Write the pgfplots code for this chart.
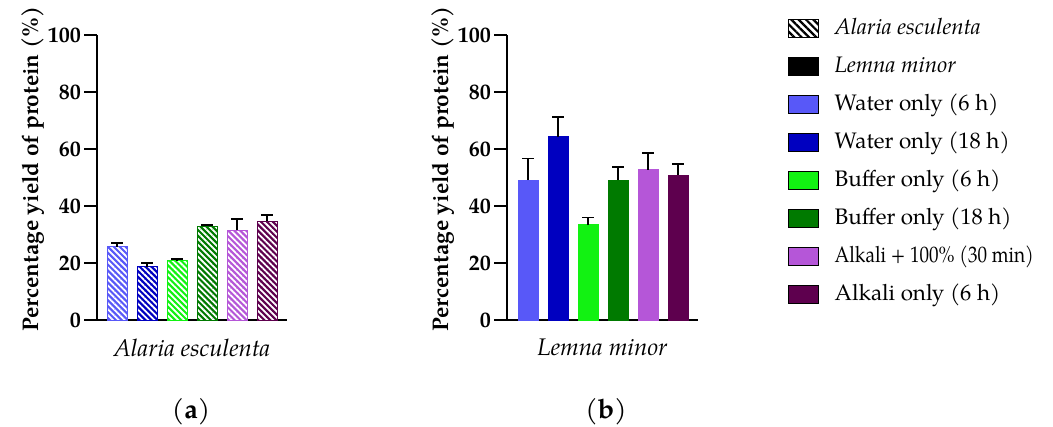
\documentclass[border=0pt]{standalone}
\usepackage{fontspec}
\setmainfont{texgyrepagella}[Extension=.otf, UprightFont=*-regular, BoldFont=*-bold, ItalicFont=*-italic, BoldItalicFont=*-bolditalic]
\usepackage{graphicx}
\usepackage{pgfplots}
\pgfplotsset{compat=1.18}
\usetikzlibrary{patterns.meta}

\definecolor{cWa}{HTML}{5858F8}
\definecolor{cWb}{HTML}{0000C0}
\definecolor{cBa}{HTML}{12F212}
\definecolor{cBb}{HTML}{007A00}
\definecolor{cAa}{HTML}{B556D8}
\definecolor{cAb}{HTML}{5E004E}

\pgfplotsset{
  panel/.style={
    scale only axis,
    height=142.5pt,
    ymin=0, ymax=100,
    ytick={0,20,40,60,80,100},
    xtick=\empty,
    axis x line*=bottom,
    axis y line*=left,
    axis line style={-, line width=1.4pt, black},
    tick align=outside,
    major tick length=6.5pt,
    tick style={line width=1.1pt, black},
    /pgf/number format/assume math mode=true,
    ticklabel style={font=\fontsize{11}{13}\selectfont\bfseries},
    yticklabel style={xshift=2pt},
    ylabel={\bfseries Percentage yield of protein (\%)},
    ylabel style={font=\fontsize{11.3}{13}\selectfont, at={(ticklabel cs:0.53)}},
    ylabel shift=-5pt,
    xlabel style={font=\fontsize{12}{14}\selectfont\itshape, at={(axis description cs:0.5,0)}, anchor=north, yshift=-6pt},
    ybar, bar width=10pt, bar shift=0pt,
    clip=false,
    error bars/y dir=plus, error bars/y explicit,
    error bars/error bar style={black, line width=0.8pt, solid},
    error bars/error mark options={rotate=90, black, mark size=3pt, line width=0.8pt},
  },
  hatch/.style={fill=#1, draw=#1, postaction={pattern={Lines[angle=-45, distance=2.1pt, line width=0.9pt]}, pattern color=white}},
  solid bar/.style={fill=#1, draw=#1},
}

\begin{document}
\begin{tikzpicture}
\useasboundingbox (0pt,0pt) rectangle (526.5pt,213.5pt);

% (a) Alaria esculenta
\begin{axis}[panel, at={(48.5pt,53.5pt)}, anchor=south west, width=95pt,
  xmin=-0.667, xmax=5.667, xlabel={Alaria esculenta}]
\addplot[hatch=cWa] coordinates {(0,25.7) +- (0,1.4)};
\addplot[hatch=cWb] coordinates {(1,18.7) +- (0,1.2)};
\addplot[hatch=cBa] coordinates {(2,20.8) +- (0,0.7)};
\addplot[hatch=cBb] coordinates {(3,33.0) +- (0,0.3)};
\addplot[hatch=cAa] coordinates {(4,31.6) +- (0,3.8)};
\addplot[hatch=cAb] coordinates {(5,34.6) +- (0,2.2)};
\end{axis}

% (b) Lemna minor
\begin{axis}[panel, at={(253.5pt,53.5pt)}, anchor=south west, width=95.5pt,
  xmin=-0.7, xmax=5.667, xlabel={Lemna minor},
  legend image code/.code={\fill[#1] (0pt,-4.5pt) rectangle (15pt,4.5pt);},
  legend cell align=left,
  legend style={at={(1.466,1.06)}, anchor=north west, draw=none, fill=none,
    inner sep=0pt, row sep=8.5pt, font=\fontsize{11.2}{13}\selectfont,
    nodes={inner sep=0pt, text height=8pt, text depth=2.5pt},
    /tikz/every odd column/.append style={column sep=7.5pt}},
]
\addlegendimage{pattern={Lines[angle=-45, distance=2.6pt, line width=1.1pt]}, pattern color=black}
\addlegendentry{\itshape Alaria esculenta}
\addlegendimage{fill=black}
\addlegendentry{\itshape Lemna minor}
\addlegendimage{fill=cWa}
\addlegendentry{Water only (6 h)}
\addlegendimage{fill=cWb}
\addlegendentry{Water only (18 h)}
\addlegendimage{fill=cBa}
\addlegendentry{Buffer only (6 h)}
\addlegendimage{fill=cBb}
\addlegendentry{Buffer only (18 h)}
\addlegendimage{fill=cAa}
\addlegendentry{\scalebox{0.85}[1]{Alkali + 100\% (30 min)}}
\addlegendimage{fill=cAb}
\addlegendentry{Alkali only (6 h)}
\addplot[solid bar=cWa, forget plot] coordinates {(0,49.1) +- (0,7.6)};
\addplot[solid bar=cWb, forget plot] coordinates {(1,64.3) +- (0,7.0)};
\addplot[solid bar=cBa, forget plot] coordinates {(2,33.5) +- (0,2.4)};
\addplot[solid bar=cBb, forget plot] coordinates {(3,49.1) +- (0,4.5)};
\addplot[solid bar=cAa, forget plot] coordinates {(4,52.7) +- (0,5.9)};
\addplot[solid bar=cAb, forget plot] coordinates {(5,50.9) +- (0,3.9)};
\end{axis}

\node[font=\fontsize{13.5}{15}\selectfont] at (95.5pt,7.5pt) {(\textbf{a})};
\node[font=\fontsize{13.5}{15}\selectfont] at (303pt,7.5pt) {(\textbf{b})};
\end{tikzpicture}
\end{document}
